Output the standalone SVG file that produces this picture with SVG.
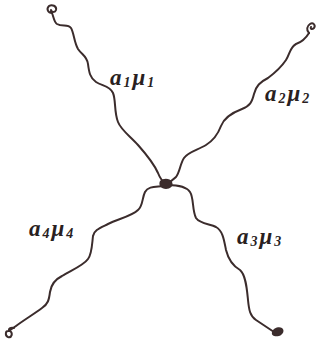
<svg xmlns="http://www.w3.org/2000/svg" width="323" height="346" viewBox="0 0 323 346">
<style>
.w{fill:none;stroke:#3b2c2c;stroke-width:2;stroke-linecap:round;stroke-linejoin:round}
.l{font-family:"Liberation Serif",serif;font-style:italic;font-weight:bold;font-size:23px;fill:#2a1f1f;letter-spacing:2px}
.s{font-size:14px}
</style>
<rect width="323" height="346" fill="#fff"/>
<g id="connectors">
<path class="w" d="M52,13 C54,18 54,22 57,24 C62,27 68,24 71,28 C74,33 74,42 78,49 C82,55 87,56 88,64 C89,72 90,78 96,82 C102,86 110,86 113,93 C116,100 114,112 118,122 C121,130 130,136 138,145 C146,154 154,164 158,173 C160,178 162,181 165,183"/>
<path class="w" d="M309,33 C306,38 302,42 296,44 C290,47 290,54 286,60 C282,66 276,72 268,78 C260,82 256,86 254,94 C252,102 250,106 242,109 C234,112 224,118 221,126 C218,134 214,140 206,145 C198,150 188,152 184,158 C180,164 180,172 176,177 C172,181 170,182 167,183"/>
<path class="w" d="M163,186 C156,187 148,186 145,192 C142,198 143,206 138,210 C132,216 118,219 108,224 C100,228 94,230 93,236 C92,244 92,254 88,259 C84,265 72,270 62,276 C54,280 51,285 50,292 C49,300 48,304 42,308 C34,314 24,320 16,326 C12,329 10,330 9,331"/>
<path class="w" d="M168,185 C176,185 186,186 190,192 C194,198 192,210 196,218 C200,224 210,224 216,227 C223,231 224,240 226,250 C228,258 233,266 240,270 C246,275 247,290 248,300 C249,310 250,316 256,320 C262,324 268,328 274,332"/>
</g>
<g id="vertex">
<path d="M160,181 C163,178 170,178 172,182 C174,186 170,189 166,189 C161,189 158,185 160,181 Z" fill="#3b2c2c"/>
</g>
<g id="ends">
<path class="w" d="M52,13 C48,13 46,9 49,6 C52,4 57,6 56,10 C55,13 51,12 51,10"/>
<path class="w" d="M309,33 C306,30 307,26 310,24 C313,22 316,25 314,28 C312,30 310,29 311,27"/>
<path class="w" d="M9,331 C5,330 5,336 8,337 C12,338 13,333 10,331 C7,329 11,327 14,328"/>
<path d="M272,332 C273,328 279,326 282,328 C285,330 283,335 279,336 C275,337 271,336 272,332 Z" fill="#3b2c2c"/>
</g>
<g id="labels">
<text class="l" x="110" y="85">a<tspan class="s" dy="2">1</tspan><tspan dy="-2">μ</tspan><tspan class="s" dy="2">1</tspan></text>
<text class="l" x="265" y="101">a<tspan class="s" dy="2">2</tspan><tspan dy="-2">μ</tspan><tspan class="s" dy="2">2</tspan></text>
<text class="l" x="29" y="236">a<tspan class="s" dy="2">4</tspan><tspan dy="-2">μ</tspan><tspan class="s" dy="2">4</tspan></text>
<text class="l" x="237" y="244">a<tspan class="s" dy="2">3</tspan><tspan dy="-2">μ</tspan><tspan class="s" dy="2">3</tspan></text>
</g>
</svg>
